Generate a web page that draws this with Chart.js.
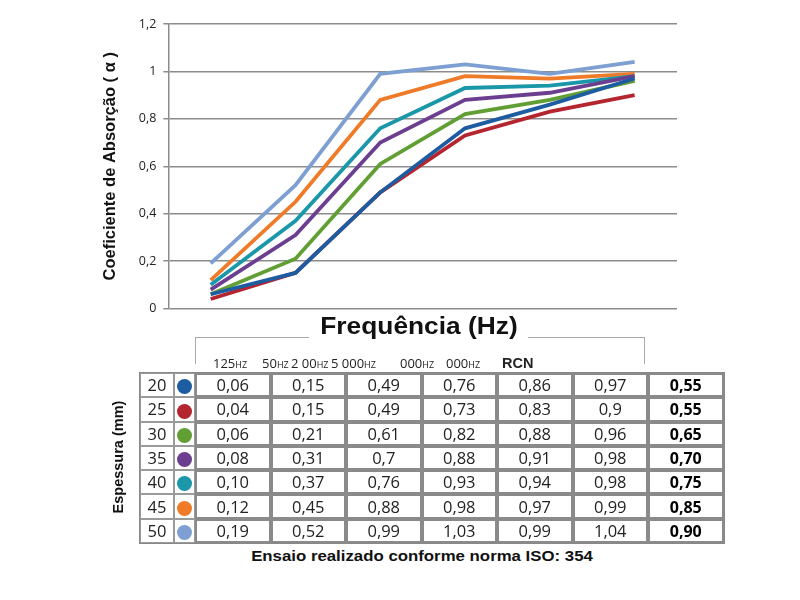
<!DOCTYPE html>
<html lang="pt">
<head>
<meta charset="UTF-8">
<title>Coeficiente de Absorção</title>
<script src="https://cdn.jsdelivr.net/npm/chart.js"></script>
<style>
    body { margin: 0; width: 800px; height: 600px; background: #fff; position: relative; font-family: "Liberation Sans", Arial, sans-serif; overflow: hidden; }
    #chartBox { position: absolute; left: 90px; top: 0; width: 600px; height: 323px; }
    #freqTitle { position: absolute; left: 0; width: 838px; top: 313px; text-align: center; font-size: 23.5px; font-weight: bold; color: #111; transform: scaleX(1.12); transform-origin: 419px 0; }
    .bracket { position: absolute; border-color: #aaa; border-style: solid; border-width: 0; }
    #hzRow { position: absolute; top: 354px; left: 0; height: 16px; font-family: "Open Sans", sans-serif; font-size: 13px; color: #222; }
    #hzRow span { position: absolute; white-space: nowrap; background: transparent; }
    #hzRow small { font-size: 9px; }
    #hzRow b { font-family: "Liberation Sans", Arial, sans-serif; font-size: 14.5px; }
    #tbl { position: absolute; left: 139px; top: 372px; border-collapse: separate; border-spacing: 0; border: 1px solid #888; }
    #tbl td { border: 1px solid #9a9a9a; height: 24.3px; padding: 0; text-align: center; font-family: "Open Sans", sans-serif; font-size: 16.5px; color: #222; box-sizing: border-box; line-height: 20px; }
    #tbl td.val { width: 75.5px; border: 2px solid #8a8a8a; }
    #tbl td.nrc { font-weight: bold; color: #000; font-size: 16px; }
    #tbl td.esp { width: 34px; }
    #tbl td.dot { width: 21px; }
    .dot i { display: inline-block; width: 15px; height: 15px; border-radius: 50%; vertical-align: middle; }
    #espTitle { position: absolute; left: 118px; top: 457px; transform: translate(-50%, -50%) rotate(-90deg); font-size: 14.5px; font-weight: bold; color: #111; white-space: nowrap; }
    #foot { position: absolute; left: 0; width: 844px; top: 547px; text-align: center; font-size: 15px; font-weight: bold; color: #111; transform: scaleX(1.12); transform-origin: 422px 0; }
</style>
</head>
<body>

<div id="chartBox"><canvas id="absChart" width="600" height="323"></canvas></div>

<div id="freqTitle">Frequência (Hz)</div>
<div class="bracket" style="left:195px; top:337px; width:113px; height:26px; border-top-width:1.5px; border-left-width:1.5px;"></div>
<div class="bracket" style="left:528px; top:337px; width:116px; height:26px; border-top-width:1.5px; border-right-width:1.5px;"></div>

<div id="hzRow"></div>
<table id="tbl"><tbody id="tblBody"></tbody></table>
<div id="espTitle">Espessura (mm)</div>
<div id="foot">Ensaio realizado conforme norma ISO: 354</div>

<script>
// Frequências (Hz)
const frequencias = ["125", "250", "500", "1 000", "2 000", "4 000"];
// Espessuras (mm)
const espessuras = [20, 25, 30, 35, 40, 45, 50];
const cores = ["#1e5ca2", "#b5252f", "#619f34", "#6b3e8f", "#1a97a8", "#ef7b29", "#7e9fd2"];

// coeficientes por espessura
const e20 = [0.06, 0.15, 0.49, 0.76, 0.86, 0.97];
const e25 = [0.04, 0.15, 0.49, 0.73, 0.83, 0.90];
const e30 = [0.06, 0.21, 0.61, 0.82, 0.88, 0.96];
const e35 = [0.08, 0.31, 0.70, 0.88, 0.91, 0.98];
const e40 = [0.10, 0.37, 0.76, 0.93, 0.94, 0.98];
const e45 = [0.12, 0.45, 0.88, 0.98, 0.97, 0.99];
const e50 = [0.19, 0.52, 0.99, 1.03, 0.99, 1.04];
const series = [e20, e25, e30, e35, e40, e45, e50];

// NRC
const nrc = ["0,55", "0,55", "0,65", "0,70", "0,75", "0,85", "0,90"];
// texto da tabela como aparece
const textoTabela = [
    ["0,06", "0,15", "0,49", "0,76", "0,86", "0,97"],
    ["0,04", "0,15", "0,49", "0,73", "0,83", "0,9"],
    ["0,06", "0,21", "0,61", "0,82", "0,88", "0,96"],
    ["0,08", "0,31", "0,7", "0,88", "0,91", "0,98"],
    ["0,10", "0,37", "0,76", "0,93", "0,94", "0,98"],
    ["0,12", "0,45", "0,88", "0,98", "0,97", "0,99"],
    ["0,19", "0,52", "0,99", "1,03", "0,99", "1,04"]
];
const yTicks = [0, 0.2, 0.4, 0.6, 0.8, 1, 1.2];

// ✅ Cabeçalho (Hz) sobreposto
const hzRow = document.getElementById("hzRow");
const hzLabels = [["125", 213], ["50", 262], ["2 00", 291], ["5 000", 331], ["000", 400], ["000", 446]];
hzLabels.forEach(([t, x]) => {
    const s = document.createElement("span");
    s.style.left = x + "px";
    s.innerHTML = t + "<small>HZ</small>";
    hzRow.appendChild(s);
});
const nrcHead = document.createElement("span");
nrcHead.style.left = "502px";
nrcHead.innerHTML = "<b>RCN</b>";
hzRow.appendChild(nrcHead);

// ✅ Tabela
const tb = document.getElementById("tblBody");
espessuras.forEach((e, i) => {
    let row = `<tr><td class="esp">${e}</td><td class="dot"><i style="background:${cores[i]}"></i></td>`;
    textoTabela[i].forEach(v => row += `<td class="val">${v}</td>`);
    row += `<td class="val nrc">${nrc[i]}</td></tr>`;
    tb.innerHTML += row;
});

// ✅ Gráfico
new Chart(document.getElementById("absChart"), {
    type: "line",
    data: {
        labels: frequencias,
        datasets: espessuras.map((e, i) => ({
            label: e + " mm",
            data: series[i],
            borderColor: cores[i],
            borderWidth: 3.8,
            pointRadius: 0,
            tension: 0,
            fill: false
        }))
    },
    options: {
        responsive: false,
        animation: false,
        layout: { padding: { top: 24, right: 13, bottom: 5, left: 6 } },
        plugins: { legend: { display: false }, tooltip: { enabled: false } },
        scales: {
            x: {
                display: false,
                offset: true
            },
            y: {
                min: 0,
                max: 1.2,
                afterBuildTicks: axis => { axis.ticks = yTicks.map(v => ({ value: v })); },
                ticks: {
                    color: "#222",
                    font: { family: "Open Sans", size: 12.5 },
                    padding: 7,
                    callback: v => String(Math.round(v * 10) / 10).replace(".", ",")
                },
                grid: { color: "#8c8c8c", lineWidth: 1.5, tickLength: 5 },
                border: { display: true, color: "#8c8c8c", width: 1.5 },
                title: {
                    display: true,
                    text: "Coeficiente de Absorção ( α )",
                    color: "#111",
                    font: { family: "Liberation Sans", size: 16.5, weight: "bold" },
                    padding: { top: 5, bottom: 11 }
                }
            }
        }
    }
});
</script>
</body>
</html>
